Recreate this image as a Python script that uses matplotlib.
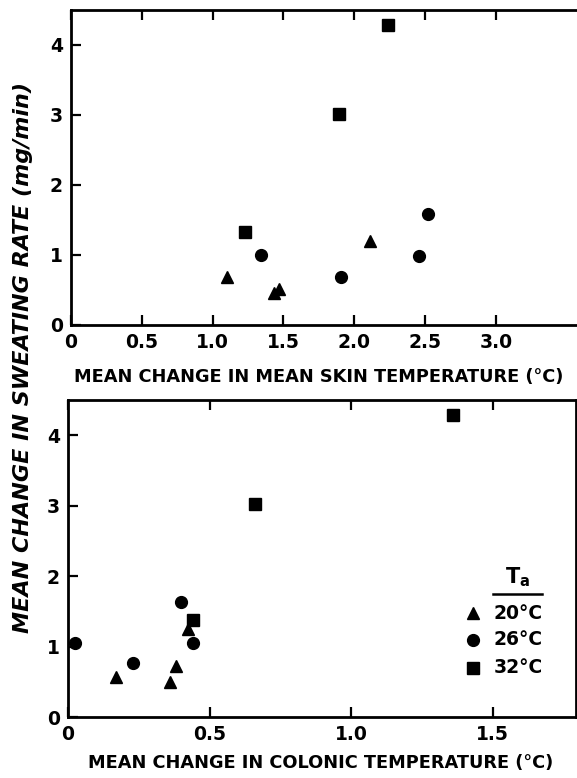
import matplotlib.pyplot as plt
from matplotlib.lines import Line2D

# change in mean skin temperature (deg C) vs change in sweating rate (mg/min)
skin_20_x = [1.10, 1.43, 1.47, 2.11]
skin_20_y = [0.68, 0.45, 0.52, 1.20]
skin_26_x = [1.34, 1.91, 2.46, 2.52]
skin_26_y = [1.00, 0.68, 0.98, 1.59]
skin_32_x = [1.23, 1.89, 2.24]
skin_32_y = [1.33, 3.01, 4.29]

# change in colonic temperature (deg C) vs change in sweating rate (mg/min)
col_20_x = [0.17, 0.36, 0.38, 0.425]
col_20_y = [0.57, 0.49, 0.73, 1.25]
col_26_x = [0.025, 0.23, 0.40, 0.44]
col_26_y = [1.05, 0.76, 1.63, 1.05]
col_32_x = [0.44, 0.66, 1.36]
col_32_y = [1.37, 3.03, 4.29]

temps = ["20°C", "26°C", "32°C"]
markers = ["^", "o", "s"]
msizes = [9, 8.5, 8]

skin_ticks = [0, 0.5, 1.0, 1.5, 2.0, 2.5, 3.0]
skin_ticklabels = ["0", "0.5", "1.0", "1.5", "2.0", "2.5", "3.0"]
col_ticks = [0, 0.5, 1.0, 1.5]
col_ticklabels = ["0", "0.5", "1.0", "1.5"]
y_ticks = [0, 1, 2, 3, 4]

plt.rcParams['font.family'] = ["DejaVu Sans"]
plt.rcParams['font.weight'] = 'bold'
plt.rcParams['axes.labelweight'] = 'bold'

fig = plt.figure(figsize=(5.77, 7.78), dpi=100)
ax1 = fig.add_axes([0.1231, 0.5823, 0.8835, 0.4049])
ax2 = fig.add_axes([0.1179, 0.0784, 0.8804, 0.4075])


def style(ax, xticks, xlabels, xmax):
    ax.set_xlim(0, xmax)
    ax.set_ylim(0, 4.5)
    ax.set_xticks(xticks)
    ax.set_xticklabels(xlabels)
    ax.set_yticks(y_ticks)
    ax.tick_params(direction='in', length=7, width=1.6, labelsize=13.5,
                   top=True, pad=6)
    ax.tick_params(axis='x', which='both', labeltop=False)
    for s in ax.spines.values():
        s.set_linewidth(2.0)


groups1 = [(skin_20_x, skin_20_y), (skin_26_x, skin_26_y), (skin_32_x, skin_32_y)]
groups2 = [(col_20_x, col_20_y), (col_26_x, col_26_y), (col_32_x, col_32_y)]
for ax, groups in [(ax1, groups1), (ax2, groups2)]:
    for (gx, gy), m, ms in zip(groups, markers, msizes):
        ax.plot(gx, gy, linestyle='none', marker=m, markersize=ms,
                color='black', clip_on=False)

style(ax1, skin_ticks, skin_ticklabels, 3.6)
style(ax2, col_ticks, col_ticklabels, 1.795)
ax1.spines['right'].set_visible(False)

ax1.set_xlabel("MEAN CHANGE IN MEAN SKIN TEMPERATURE (°C)", fontsize=12.8)
ax1.xaxis.set_label_coords(0.485, -0.137)
ax2.set_xlabel("MEAN CHANGE IN COLONIC TEMPERATURE (°C)", fontsize=12.8)
ax2.xaxis.set_label_coords(0.497, -0.118)

fig.text(0.040, 0.54, "MEAN CHANGE IN SWEATING RATE (mg/min)", rotation=90,
         ha='center', va='center', fontsize=16, style='italic',
         fontweight='bold')

# legend for ambient temperature
lx, tx = 0.797, 0.837
ly = [0.328, 0.243, 0.155]
for m, ms, t, y in zip(markers, msizes, temps, ly):
    ax2.plot([lx], [y], transform=ax2.transAxes, marker=m, markersize=ms,
             color='black', linestyle='none', clip_on=False)
    ax2.text(tx, y, t, transform=ax2.transAxes, ha='left', va='center',
             fontsize=13.5)
ax2.text(0.885, 0.44, "T$_{\\mathbf{a}}$", transform=ax2.transAxes,
         ha='center', va='center', fontsize=15)
ax2.add_line(Line2D([0.837, 0.933], [0.388, 0.388], transform=ax2.transAxes,
                    color='black', linewidth=1.8))

fig.savefig("out.png", dpi=100)
